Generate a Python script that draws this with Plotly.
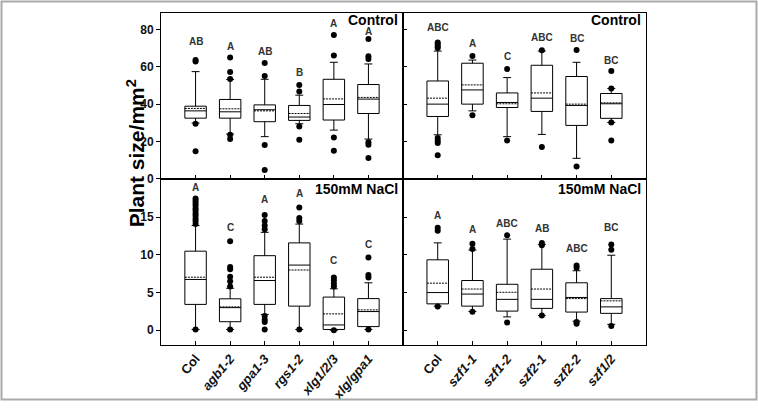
import plotly.graph_objects as go

W, H = 758, 408

cats_left = ["Col", "agb1-2", "gpa1-3", "rgs1-2", "xlg1/2/3", "xlg/gpa1"]
cats_right = ["Col", "szf1-1", "szf1-2", "szf2-1", "szf2-2", "szf1/2"]
italic_left = [False, True, True, True, True, True]
italic_right = [False, True, True, True, True, True]

# ---- Top-left: Control, G-protein mutants
tl_low = [29.9, 24.0, 22.6, 29.5, 26.1, 21.3]
tl_q1 = [32.5, 32.5, 30.6, 31.3, 31.5, 35.0]
tl_med = [36.4, 35.9, 37.0, 33.1, 39.8, 42.7]
tl_q3 = [38.9, 42.5, 39.6, 39.3, 53.3, 50.5]
tl_up = [57.4, 53.2, 53.3, 44.8, 62.4, 61.5]
tl_mean = [37.7, 37.5, 36.4, 35.0, 42.8, 43.6]
tl_out = [[63.6, 62.8, 29.5, 14.8], [65.0, 57.2, 53.5, 23.6, 21.3], [62.0, 55.0, 18.1, 4.8],
          [50.3, 46.8, 28.1, 21.0], [77.0, 66.0, 22.2, 15.1], [74.8, 65.6, 64.2, 19.6, 18.3, 11.2]]
tl_letters = ["AB", "A", "AB", "B", "A", "A"]
tl_letter_y = [73.4, 71.0, 68.4, 57.0, 83.4, 79.0]

# ---- Top-right: Control, szf mutants
tr_low = [23.6, 36.4, 22.6, 23.8, 11.0, 30.2]
tr_q1 = [33.4, 40.0, 38.2, 36.1, 28.6, 32.4]
tr_med = [40.0, 47.6, 40.9, 43.2, 39.3, 40.2]
tr_q3 = [52.4, 61.9, 46.0, 60.8, 54.8, 45.7]
tr_up = [68.4, 63.6, 54.2, 68.4, 62.4, 48.4]
tr_mean = [43.2, 50.3, 40.2, 46.0, 40.0, 40.7]
tr_out = [[73.0, 72.0, 70.8, 70.0, 21.9, 20.4, 19.2, 12.6], [65.8, 34.0], [58.8, 20.6],
          [68.8, 17.1], [69.0, 6.6], [57.8, 48.4, 30.2, 20.6]]
tr_letters = ["ABC", "A", "C", "ABC", "BC", "BC"]
tr_letter_y = [80.9, 72.4, 65.6, 75.7, 75.2, 63.5]

# ---- Bottom-left: 150mM NaCl, G-protein mutants
bl_low = [0.1, 0.1, 2.1, 0.1, 0.0, 0.1]
bl_q1 = [3.43, 1.13, 3.43, 3.2, 0.1, 0.48]
bl_med = [6.74, 3.0, 6.6, 8.65, 0.7, 2.48]
bl_q3 = [10.5, 4.17, 9.9, 11.6, 4.4, 4.2]
bl_up = [13.9, 5.57, 13.0, 14.1, 5.5, 6.3]
bl_mean = [7.04, 3.1, 7.04, 8.0, 2.17, 2.7]
bl_out = [[17.5, 17.2, 16.9, 16.6, 16.2, 15.9, 15.5, 15.2, 14.8, 14.5, 14.1, 0.1],
          [11.8, 8.4, 8.1, 7.1, 6.5, 5.8, 0.1],
          [15.3, 14.5, 13.9, 13.4, 1.9, 1.4, 1.1, 0.1],
          [16.3, 14.9, 14.5, 0.1],
          [7.0, 6.65, 6.2, 5.8, 0.0],
          [9.65, 7.35, 7.0, 0.1]]
bl_letters = ["A", "C", "A", "A", "C", "C"]
bl_letter_y = [19.0, 13.6, 17.3, 18.1, 9.26, 11.4]

# ---- Bottom-right: 150mM NaCl, szf mutants
br_low = [3.2, 2.5, 1.77, 1.94, 1.2, 0.78]
br_q1 = [3.5, 3.2, 2.54, 2.9, 2.41, 2.24]
br_med = [5.0, 4.8, 4.1, 4.1, 4.35, 3.1]
br_q3 = [9.35, 6.6, 6.1, 8.1, 6.3, 4.2]
br_up = [11.6, 10.65, 12.1, 11.4, 7.9, 9.96]
br_mean = [6.25, 5.47, 5.04, 5.47, 4.2, 3.9]
br_out = [[13.6, 13.2, 3.15], [11.5, 10.8, 2.46], [12.6, 1.03], [11.6, 11.3, 1.94],
          [8.6, 8.3, 1.08, 0.86], [11.4, 10.7, 0.56]]
br_letters = ["A", "A", "ABC", "AB", "ABC", "BC"]
br_letter_y = [15.3, 13.4, 14.2, 13.5, 10.9, 13.6]

top_ticks = [0, 20, 40, 60, 80]
bottom_ticks = [0, 5, 10, 15]

FONT = "Liberation Sans, Arial, sans-serif"

fig = go.Figure()
annotations = []

panels = [
    ("x", "y", tl_low, tl_q1, tl_med, tl_q3, tl_up, tl_mean, tl_out, tl_letters, tl_letter_y),
    ("x2", "y2", tr_low, tr_q1, tr_med, tr_q3, tr_up, tr_mean, tr_out, tr_letters, tr_letter_y),
    ("x3", "y3", bl_low, bl_q1, bl_med, bl_q3, bl_up, bl_mean, bl_out, bl_letters, bl_letter_y),
    ("x4", "y4", br_low, br_q1, br_med, br_q3, br_up, br_mean, br_out, br_letters, br_letter_y),
]

for xa, ya, low, q1, med, q3, up, mean, outs, letters, ly in panels:
    pos = list(range(len(q1)))
    fig.add_trace(go.Box(
        x=pos, q1=q1, median=med, q3=q3, lowerfence=low, upperfence=up, mean=mean,
        boxmean=True, boxpoints=False, width=0.62, whiskerwidth=0.37,
        fillcolor="white", line=dict(color="black", width=1),
        xaxis=xa, yaxis=ya, showlegend=False, hoverinfo="skip"))
    ox, oy = [], []
    for i, vals in enumerate(outs):
        for v in vals:
            ox.append(i)
            oy.append(v)
    fig.add_trace(go.Scatter(
        x=ox, y=oy, mode="markers", marker=dict(color="black", size=6),
        xaxis=xa, yaxis=ya, showlegend=False, hoverinfo="skip"))
    for i, (t, yv) in enumerate(zip(letters, ly)):
        annotations.append(dict(
            x=i, y=yv, xref=xa, yref=ya, text="<b>%s</b>" % t, showarrow=False,
            font=dict(family=FONT, size=10, color="#333333")))


def ticktext(cats, ital):
    return ["<b><i>%s</i></b>" % c if it else "<b>%s</b>" % c for c, it in zip(cats, ital)]


xl = [161 / W, 403 / W]
xr = [403 / W, 646 / W]
yt = [1 - 182 / H, 1 - 13 / H]
yb = [1 - 351 / H, 1 - 182 / H]

common_x = dict(range=[-1, 6], tickvals=list(range(6)), ticks="inside", ticklen=4,
                tickcolor="black", showline=True, mirror=True, linecolor="black", linewidth=1,
                showgrid=False, zeroline=False, tickfont=dict(family=FONT, size=13, color="#111111"))
common_y = dict(showline=True, mirror=True, linecolor="black", linewidth=1, showgrid=False,
                zeroline=False, tickcolor="black", ticklen=4,
                tickfont=dict(family=FONT, size=12, color="#111111"))

fig.update_layout(
    width=W, height=H, margin=dict(l=0, r=0, t=0, b=0),
    paper_bgcolor="white", plot_bgcolor="white",
    xaxis=dict(domain=xl, anchor="y", showticklabels=False, **common_x),
    xaxis2=dict(domain=xr, anchor="y2", showticklabels=False, **common_x),
    xaxis3=dict(domain=xl, anchor="y3", tickangle=-50,
                ticktext=ticktext(cats_left, italic_left), **common_x),
    xaxis4=dict(domain=xr, anchor="y4", tickangle=-50,
                ticktext=ticktext(cats_right, italic_right), **common_x),
    yaxis=dict(domain=yt, anchor="x", range=[0, 88.9], tickvals=top_ticks,
               ticktext=["<b>%d</b>" % v for v in top_ticks], ticks="outside", **common_y),
    yaxis2=dict(domain=yt, anchor="x2", range=[0, 88.9], tickvals=top_ticks,
                ticks="inside", showticklabels=False, **common_y),
    yaxis3=dict(domain=yb, anchor="x3", range=[-1.96, 20.1], tickvals=bottom_ticks,
                ticktext=["<b>%d</b>" % v for v in bottom_ticks], ticks="outside", **common_y),
    yaxis4=dict(domain=yb, anchor="x4", range=[-1.96, 20.1], tickvals=bottom_ticks,
                ticks="inside", showticklabels=False, **common_y),
)

panel_labels = [
    ("Control", 400 / W, 1 - 20.5 / H),
    ("Control", 643 / W, 1 - 20.5 / H),
    ("150mM NaCl", 400 / W, 1 - 192 / H),
    ("150mM NaCl", 643 / W, 1 - 192 / H),
]
for t, x, y in panel_labels:
    annotations.append(dict(x=x, y=y, xref="paper", yref="paper", xanchor="right",
                            yanchor="middle", text="<b>%s</b>" % t, showarrow=False,
                            font=dict(family=FONT, size=14, color="black")))

annotations.append(dict(x=121 / W, y=1 - 156 / H, xref="paper", yref="paper",
                        text="<b>Plant size/mm<sup>2</sup></b>", textangle=-90,
                        showarrow=False, font=dict(family=FONT, size=21, color="black")))

fig.update_layout(annotations=annotations)
fig.add_shape(type="rect", xref="paper", yref="paper", x0=1.5 / W, x1=756.5 / W,
              y0=1.5 / H, y1=406.5 / H, line=dict(color="#aaaaaa", width=2))

fig.write_html("out.html")
